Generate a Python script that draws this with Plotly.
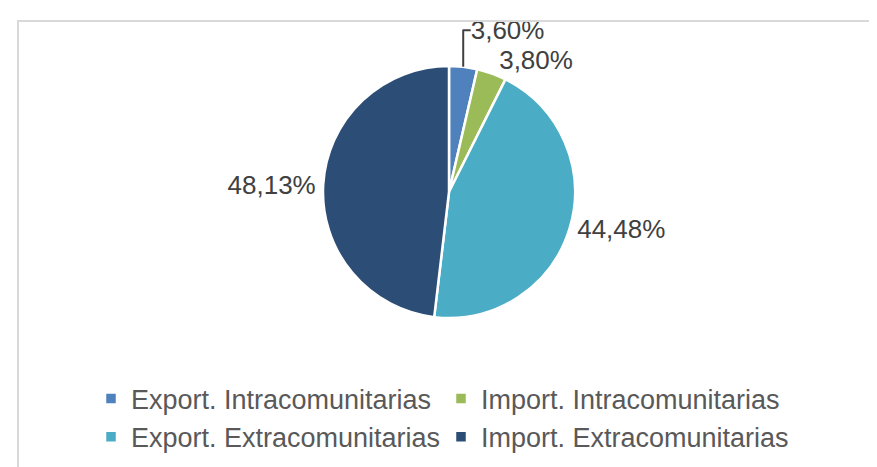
import plotly.graph_objects as go

labels = ["Export. Intracomunitarias", "Import. Intracomunitarias",
          "Export. Extracomunitarias", "Import. Extracomunitarias"]
values = [3.60, 3.80, 44.48, 48.13]
colors = ["#4F81BD", "#9BBB59", "#4BACC6", "#2C4D75"]

W, H = 877, 467
cx, cy, r = 441, 184, 126

fig = go.Figure(go.Pie(
    labels=labels,
    values=values,
    sort=False,
    direction="clockwise",
    rotation=0,
    marker=dict(colors=colors, line=dict(color="white", width=2.5)),
    texttemplate="%{value:.2f}%",
    textposition="outside",
    textfont=dict(size=26, color="#404040", family="Arial, Liberation Sans"),
    domain=dict(x=[(cx - r) / W, (cx + r) / W], y=[1 - (cy + r) / H, 1 - (cy - r) / H]),
    hoverinfo="label+value",
))

fig.update_layout(
    width=W, height=H,
    margin=dict(l=0, r=0, t=0, b=0, autoexpand=False),
    separators=",.",
    paper_bgcolor="white",
    font=dict(family="Arial, Liberation Sans", size=26, color="#595959"),
    showlegend=True,
    legend=dict(
        orientation="h",
        xref="container", yref="container",
        x=83 / W, xanchor="left",
        y=1 - 410 / H, yanchor="middle",
        entrywidth=305, entrywidthmode="pixels",
        font=dict(size=27, color="#595959"),
        bgcolor="rgba(0,0,0,0)",
    ),
    shapes=[dict(type="rect", xref="paper", yref="paper",
                 x0=10 / W, x1=1.02, y0=-0.02, y1=1 - 13 / H,
                 line=dict(color="#D9D9D9", width=2), fillcolor="rgba(0,0,0,0)")],
)

fig.write_html("out.html")
